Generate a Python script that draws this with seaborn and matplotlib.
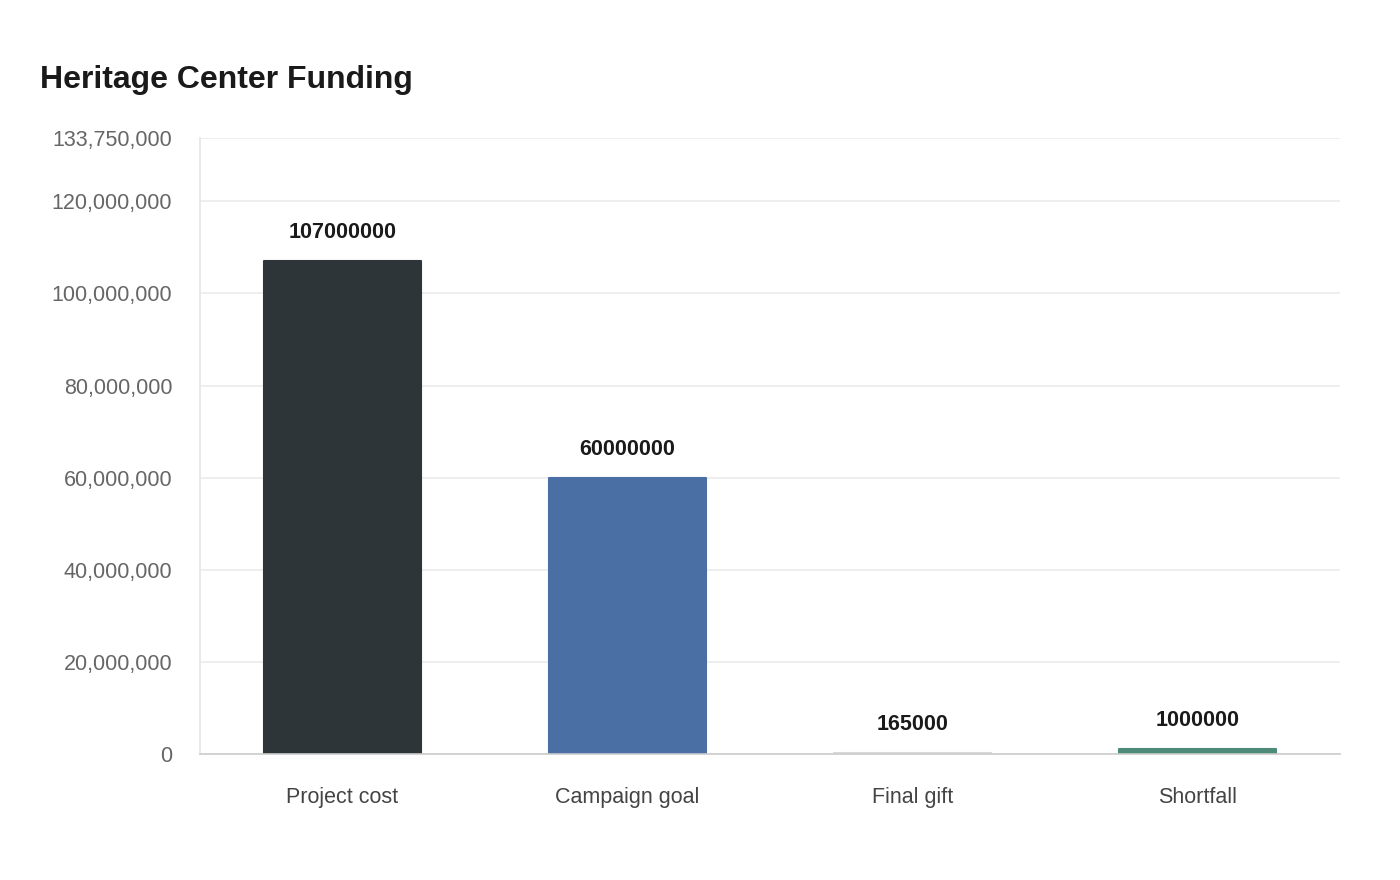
import matplotlib
matplotlib.use("Agg")
import matplotlib.pyplot as plt
import seaborn as sns
import pandas as pd
from matplotlib.ticker import FuncFormatter

categories = ["Project cost", "Campaign goal", "Final gift", "Shortfall"]
values = [107000000, 60000000, 165000, 1000000]
colors = ["#2d3538", "#4a6fa5", "#d9d9d9", "#4e8a78"]
yticks = [0, 20000000, 40000000, 60000000, 80000000, 100000000, 120000000, 133750000]

sns.set_theme(style="white")
plt.rcParams['font.family'] = ['Liberation Sans', 'DejaVu Sans']

df = pd.DataFrame({"category": categories, "value": values})

fig = plt.figure(figsize=(14, 8.8), dpi=100)
ax = fig.add_axes([200/1400, 1 - 754/880, 1140/1400, (754-138)/880])

sns.barplot(data=df, x="category", y="value", hue="category", palette=colors,
            width=0.55, ax=ax, legend=False, saturation=1)

for p, c in zip(ax.patches, colors):
    p.set_edgecolor(c)
    p.set_linewidth(1.5)
    p.set_joinstyle("round")

for i, v in enumerate(values):
    ax.annotate(str(v), (i, v), xytext=(0, 13), textcoords="offset points",
                ha="center", va="bottom", fontsize=15.5, fontweight="bold", color="#1a1a1a")

ax.set_ylim(0, 133750000)
ax.set_xlim(-0.5, 3.5)
ax.set_yticks(yticks)
ax.yaxis.set_major_formatter(FuncFormatter(lambda v, p: f"{int(v):,}"))
ax.tick_params(axis="y", labelsize=15.5, labelcolor="#666666", length=0, pad=20)
ax.tick_params(axis="x", labelsize=15.5, labelcolor="#444444", length=0, pad=24)
ax.set_xlabel("")
ax.set_ylabel("")
ax.grid(axis="y", color="#ebebeb", linewidth=1.2)
ax.set_axisbelow(True)
for s in ["top", "right"]:
    ax.spines[s].set_visible(False)
ax.spines["left"].set_color("#e6e6e6")
ax.spines["bottom"].set_color("#cccccc")
ax.spines["bottom"].set_linewidth(1.2)

fig.text(40/1400, 1 - 80/880, "Heritage Center Funding", fontsize=23, fontweight="bold",
         color="#1a1a1a", ha="left", va="center")

fig.savefig("out.png", dpi=100, facecolor="white")
